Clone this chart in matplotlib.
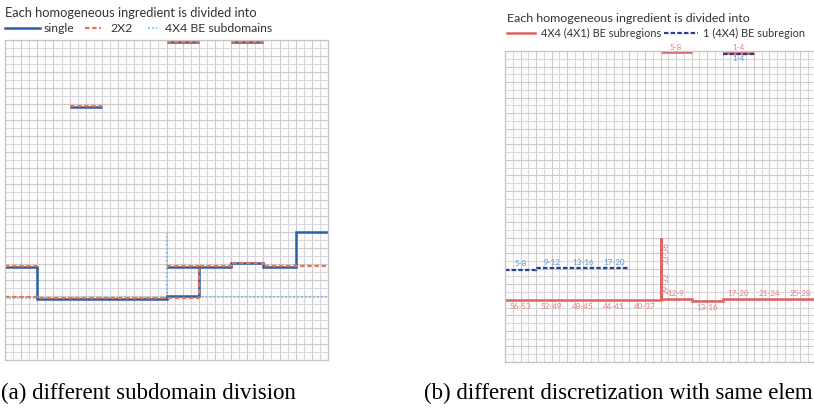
import numpy as np
import matplotlib.pyplot as plt
from matplotlib.lines import Line2D

# ---- panel (a): step profiles for three subdomain divisions (grid units) ----
single_edges = [0, 4, 20, 24, 28, 32, 36, 40]
single_levels = [11.6, 7.6, 8.0, 11.6, 12.1, 11.6, 16.0]
single_flats = [(8, 12, 31.6), (20, 24, 39.75), (28, 32, 39.75), (20, 24, 11.6)]

x2_edges = [0, 4, 20, 24, 28, 32, 40]
x2_levels = [7.9, 7.75, 7.75, 11.75, 12.1, 11.75]
x2_flats = [(0, 4, 11.7), (8, 12, 31.7), (20, 24, 39.8), (28, 32, 39.8), (20, 24, 11.7)]

x4_edges = [0, 20, 20, 40]
x4_levels = [7.8, 15.9, 7.9]

# ---- panel (b): same element count, different discretization ----
fine_edges = [0, 20, 20, 24, 28, 40]
fine_levels = [8.0, 15.9, 8.1, 7.85, 8.15]
fine_flats = [(20, 24, 39.9), (28, 32, 39.75)]

coarse_edges = [0, 4, 16]
coarse_levels = [11.85, 12.05]
coarse_flats = [(28, 32, 39.65)]

fine_labels = ['56-53', '52-49', '48-45', '44-41', '40-37',
               '12-9', '13-16', '17-20', '21-24', '25-28']
fine_label_elem = [0, 1, 2, 3, 4, 5, 6, 7, 8, 9]
fine_label_above = [False, False, False, False, False, True, False, True, True, True]
spike_labels = ['33-36', '29-32']
coarse_labels = ['5-8', '9-12', '13-16', '17-20']
coarse_label_elem = [0, 1, 2, 3]

C_SINGLE = '#2a5ea8'
C_2X2 = '#e8744e'
C_4X4 = '#86c0e4'
C_FINE = '#e06262'
C_COARSE = '#24408e'
C_FINE_TXT = '#e88080'
C_COARSE_TXT = '#5a9ad4'

plt.rcParams['font.family'] = ['Lato', 'DejaVu Sans']

fig = plt.figure(figsize=(8.14, 4.16), dpi=100)
W, H = 814.0, 416.0


def paper_axes(rect):
    ax = fig.add_axes(rect)
    ax.set_xlim(0, 40)
    ax.set_ylim(0, 40)
    ax.set_facecolor('#fefbfb')
    ax.set_xticks(np.arange(0, 41, 2))
    ax.set_yticks(np.arange(0, 41, 2))
    ax.set_xticks(np.arange(1, 40, 2), minor=True)
    ax.set_yticks(np.arange(1, 40, 2), minor=True)
    ax.grid(which='major', color='#cacacc', lw=0.75)
    ax.grid(which='minor', color='#d6d8e2', lw=0.75)
    ax.tick_params(which='both', length=0, labelbottom=False, labelleft=False)
    for s in ax.spines.values():
        s.set_color('#c4c4c4')
        s.set_linewidth(0.9)
    ax.set_axisbelow(True)
    return ax


def px_rect(x0, y0, x1, y1):
    return [x0 / W, 1 - y1 / H, (x1 - x0) / W, (y1 - y0) / H]


def level_at(edges, levels, x):
    for a, b, v in zip(edges[:-1], edges[1:], levels):
        if a < x < b:
            return v
    return levels[-1]


# ---------------- panel (a) ----------------
axa = paper_axes(px_rect(5, 40, 328, 360))
dot_kw = dict(color=C_4X4, lw=1.3, ls=(0, (1, 1.2)))
dash_kw = dict(color=C_2X2, lw=1.6, ls=(0, (2, 1.2)))
solid_kw = dict(color=C_SINGLE, lw=1.8)

axa.stairs(x4_levels, x4_edges, baseline=None, **dot_kw)
axa.stairs(single_levels, single_edges, baseline=None, **solid_kw)
for a, b, v in single_flats:
    axa.hlines(v, a, b, **solid_kw)
axa.stairs(x2_levels, x2_edges, baseline=None, **dash_kw)
for a, b, v in x2_flats:
    axa.hlines(v, a, b, **dash_kw)

leg_fs = 9.3
leg_fs2 = 8.8
fig.text(5 / W, 1 - 13 / H, 'Each homogeneous ingredient is divided into',
         fontsize=leg_fs, color='#333333', va='center', ha='left')
ly = 1 - 28 / H
fig.add_artist(Line2D([5 / W, 40 / W], [ly, ly], transform=fig.transFigure, **solid_kw))
fig.text(44 / W, ly, 'single', fontsize=leg_fs2, color='#333333', va='center')
fig.add_artist(Line2D([85 / W, 101 / W], [ly, ly], transform=fig.transFigure, **dash_kw))
fig.text(110 / W, ly, '2X2', fontsize=leg_fs2, color='#333333', va='center')
fig.add_artist(Line2D([148 / W, 157 / W], [ly, ly], transform=fig.transFigure, **dot_kw))
fig.text(165 / W, ly, '4X4 BE subdomains', fontsize=leg_fs2, color='#333333', va='center')

# ---------------- panel (b) ----------------
axb = paper_axes(px_rect(505, 51, 816, 362))
fine_kw = dict(color=C_FINE, lw=1.8)
coarse_kw = dict(color=C_COARSE, lw=1.6, ls=(0, (2, 1)))

axb.stairs(fine_levels, fine_edges, baseline=None, **fine_kw)
for a, b, v in fine_flats:
    axb.hlines(v, a, b, clip_on=False, **fine_kw)
axb.stairs(coarse_levels, coarse_edges, baseline=None, **coarse_kw)
for a, b, v in coarse_flats:
    axb.hlines(v, a, b, clip_on=False, **coarse_kw)

lab_fs = 5.8
for t, e, up in zip(fine_labels, fine_label_elem, fine_label_above):
    xc = 4 * e + 2
    yv = level_at(fine_edges, fine_levels, xc)
    axb.text(xc, yv + (0.7 if up else -0.8), t, fontsize=lab_fs, color=C_FINE_TXT,
             ha='center', va='center')
spike_top = max(fine_levels)
for t, yy in zip(spike_labels, [spike_top - 1.9, spike_top - 5.7]):
    axb.text(20.75, yy, t, fontsize=lab_fs, color=C_FINE_TXT, rotation=90,
             ha='center', va='center')
for t, e in zip(coarse_labels, coarse_label_elem):
    xc = 4 * e + 2
    yv = level_at(coarse_edges, coarse_levels, xc)
    axb.text(xc, yv + 0.8, t, fontsize=lab_fs, color=C_COARSE_TXT,
             ha='center', va='center')
axb.text(22, fine_flats[0][2] + 0.6, '5-8', fontsize=lab_fs, color=C_FINE_TXT,
         ha='center', va='center', clip_on=False)
axb.text(30, fine_flats[1][2] + 0.75, '1-4', fontsize=lab_fs, color=C_FINE_TXT,
         ha='center', va='center', clip_on=False)
axb.text(30, coarse_flats[0][2] - 0.6, '1-4', fontsize=lab_fs, color=C_COARSE_TXT,
         ha='center', va='center')

leg_fs_b = 8.9
leg_fs_b2 = 7.9
fig.text(507 / W, 1 - 19 / H, 'Each homogeneous ingredient is divided into',
         fontsize=leg_fs_b, color='#333333', va='center', ha='left')
ly = 1 - 33 / H
fig.add_artist(Line2D([507 / W, 535 / W], [ly, ly], transform=fig.transFigure, **fine_kw))
fig.text(541 / W, ly, '4X4 (4X1) BE subregions', fontsize=leg_fs_b2, color='#333333', va='center')
fig.add_artist(Line2D([664 / W, 698 / W], [ly, ly], transform=fig.transFigure, **coarse_kw))
fig.text(703 / W, ly, '1 (4X4) BE subregion', fontsize=leg_fs_b2, color='#333333', va='center')

# ---------------- captions ----------------
cap_kw = dict(fontsize=16.5, family='Liberation Serif', color='black', va='center')
fig.text(1 / W, 1 - 393 / H, '(a) different subdomain division', ha='left', **cap_kw)
fig.text(813 / W, 1 - 393 / H, '(b) different discretization with same elem',
         ha='right', **cap_kw)

fig.savefig('out.png', dpi=100)
